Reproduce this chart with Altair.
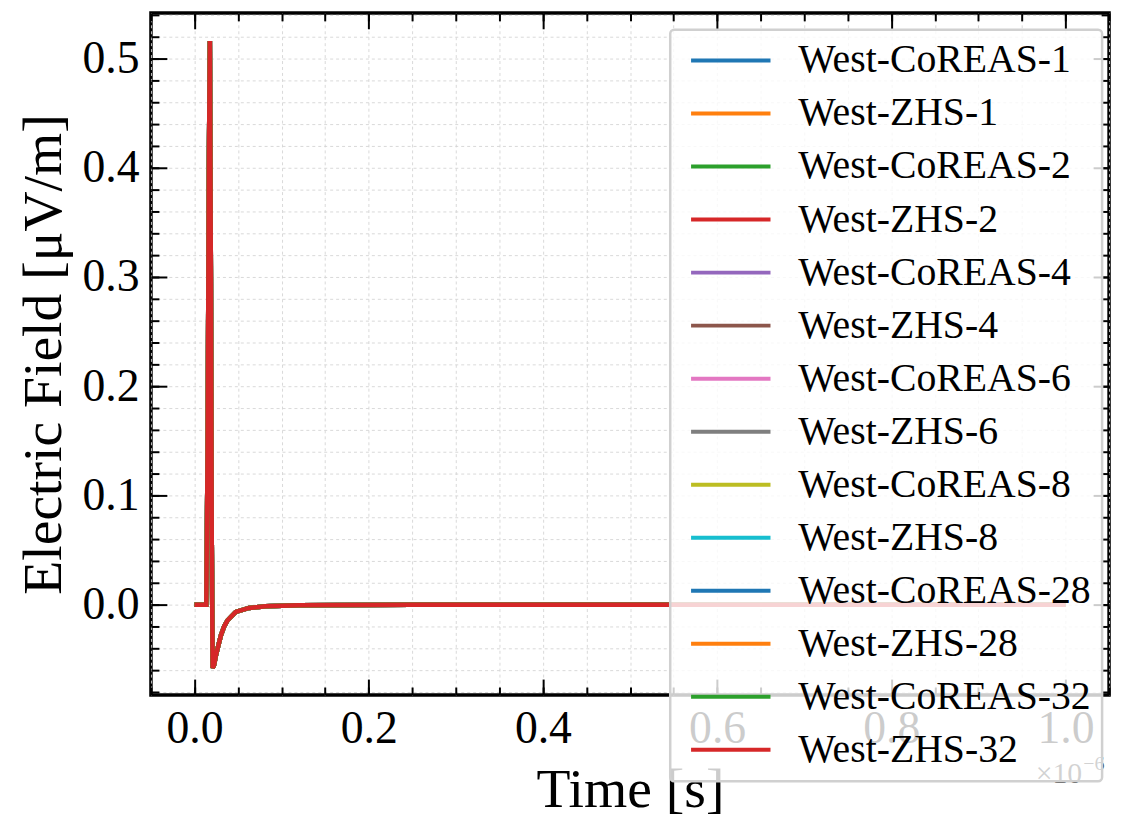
import altair as alt
import pandas as pd

# ---------------- data ----------------
series_names = [
    "West-CoREAS-1", "West-ZHS-1", "West-CoREAS-2", "West-ZHS-2",
    "West-CoREAS-4", "West-ZHS-4", "West-CoREAS-6", "West-ZHS-6",
    "West-CoREAS-8", "West-ZHS-8", "West-CoREAS-28", "West-ZHS-28",
    "West-CoREAS-32", "West-ZHS-32",
]
series_colors = [
    "#1f77b4", "#ff7f0e", "#2ca02c", "#d62728", "#9467bd", "#8c564b",
    "#e377c2", "#7f7f7f", "#bcbd22", "#17becf", "#1f77b4", "#ff7f0e",
    "#2ca02c", "#d62728",
]

# time in units of 1e-6 s, field in uV/m (all traces overlap at this scale)
time_e6s = [0.000, 0.0135, 0.0150, 0.0165, 0.0176, 0.0188, 0.0198, 0.0208,
            0.0225, 0.0247, 0.0275, 0.0304, 0.0340, 0.0380, 0.0474, 0.0626,
            0.0816, 0.1200, 0.2500, 0.6000, 1.0000]
field_uvm = [0.0, 0.0, 0.14, 0.40, 0.516, 0.30, 0.06, -0.058,
             -0.055, -0.046, -0.037, -0.028, -0.020, -0.0143, -0.0067, -0.0030,
             -0.0015, -0.0005, 0.0, 0.0, 0.0]

x_major = [0.0, 0.2, 0.4, 0.6, 0.8, 1.0]
y_major = [0.0, 0.1, 0.2, 0.3, 0.4, 0.5]
x_minor = [round(-0.05 + 0.05 * i, 2) for i in range(23)]
y_minor = [round(-0.08 + 0.02 * i, 2) for i in range(32)]

rows = []
for i, name in enumerate(series_names):
    for t, e in zip(time_e6s, field_uvm):
        rows.append({"series": name, "idx": i, "t": t, "E": e})
df = pd.DataFrame(rows)

# ---------------- layout ----------------
W, H = 965, 687
FONT = "Liberation Serif"
x_dom = [-0.05, 1.05]
y_dom = [-0.0827, 0.5418]

xs = alt.Scale(domain=x_dom, nice=False, zero=False)
ys = alt.Scale(domain=y_dom, nice=False, zero=False)


def tick_axis(orient, values, size, offset):
    return alt.Axis(orient=orient, values=values, tickSize=size, tickWidth=2,
                    tickColor="black", labels=False, domain=False, grid=False,
                    title=None, offset=offset, zindex=1)


def layer(xaxis, yaxis, opacity=0):
    return alt.Chart(df).mark_line(opacity=opacity).encode(
        x=alt.X("t:Q", scale=xs, axis=xaxis),
        y=alt.Y("E:Q", scale=ys, axis=yaxis),
        detail="series:N",
    )


grid_layer = layer(
    alt.Axis(orient="bottom", values=x_minor, grid=True, gridDash=[3, 3],
             gridColor="#d4d4d4", gridWidth=0.9, ticks=False, labels=False,
             domain=False, title=None, zindex=0),
    alt.Axis(orient="left", values=y_minor, grid=True, gridDash=[3, 3],
             gridColor="#d4d4d4", gridWidth=0.9, ticks=False, labels=False,
             domain=False, title=None, zindex=0),
)

main = alt.Chart(df).mark_line(strokeWidth=4.5).encode(
    x=alt.X("t:Q", scale=xs, axis=alt.Axis(
        orient="bottom", values=x_major, format=".1f", ticks=False, domain=False,
        grid=False, labelFont=FONT, labelFontSize=46, labelPadding=12,
        labelColor="black", labelOverlap=False, labelFlush=False,
        title="Time [s]", titleFont=FONT, titleFontSize=56,
        titleFontWeight="normal", titleColor="black", titlePadding=11, zindex=1)),
    y=alt.Y("E:Q", scale=ys, axis=alt.Axis(
        orient="left", values=y_major, format=".1f", ticks=False, domain=False,
        grid=False, labelFont=FONT, labelFontSize=46, labelPadding=12,
        labelColor="black", labelOverlap=False, labelFlush=False,
        title="Electric Field [μV/m]", titleFont=FONT, titleFontSize=56,
        titleFontWeight="normal", titleColor="black", titlePadding=10, zindex=1)),
    color=alt.Color("series:N", sort=series_names,
                    scale=alt.Scale(domain=series_names, range=series_colors),
                    legend=alt.Legend(
                        orient="none", legendX=523, legendY=17, title=None,
                        direction="vertical", symbolType="M-1,0H7",
                        symbolSize=400, symbolStrokeWidth=4,
                        labelFont=FONT, labelFontSize=40, labelColor="black",
                        labelOffset=78, labelLimit=500, rowPadding=13.4,
                        padding=11, fillColor="rgba(255,255,255,0.8)",
                        strokeColor="#d0d0d0", cornerRadius=4, zindex=2)),
    order=alt.Order("idx:Q"),
)

maj_a = layer(tick_axis("top", x_major, 16, -H), tick_axis("right", y_major, 16, -W))
maj_b = layer(tick_axis("bottom", x_major, 16, -H), tick_axis("left", y_major, 16, -W))
min_a = layer(tick_axis("top", x_minor, 8, -H), tick_axis("right", y_minor, 8, -W))
min_b = layer(tick_axis("bottom", x_minor, 8, -H), tick_axis("left", y_minor, 8, -W))

offset_base = alt.Chart(pd.DataFrame({"a": [1]}))
off1 = offset_base.mark_text(text="×10", font=FONT, fontSize=30, color="#222222",
                             align="right", baseline="alphabetic").encode(
    x=alt.value(W - 27), y=alt.value(H + 89))
off2 = offset_base.mark_text(text="−6", font=FONT, fontSize=20, color="#222222",
                             align="left", baseline="alphabetic").encode(
    x=alt.value(W - 26), y=alt.value(H + 76))

chart = alt.layer(grid_layer, main, maj_a, maj_b, min_a, min_b, off1, off2).resolve_scale(
    x="shared", y="shared").resolve_axis(x="independent", y="independent").properties(
    width=W, height=H,
    autosize=alt.AutoSizeParams(type="none"),
    padding={"left": 144, "top": 2, "right": 7, "bottom": 122},
).configure_view(stroke="black", strokeWidth=3.5).configure_legend(strokeWidth=2.5)

chart.save("out.html", embed_options={"renderer": "svg", "actions": False})
